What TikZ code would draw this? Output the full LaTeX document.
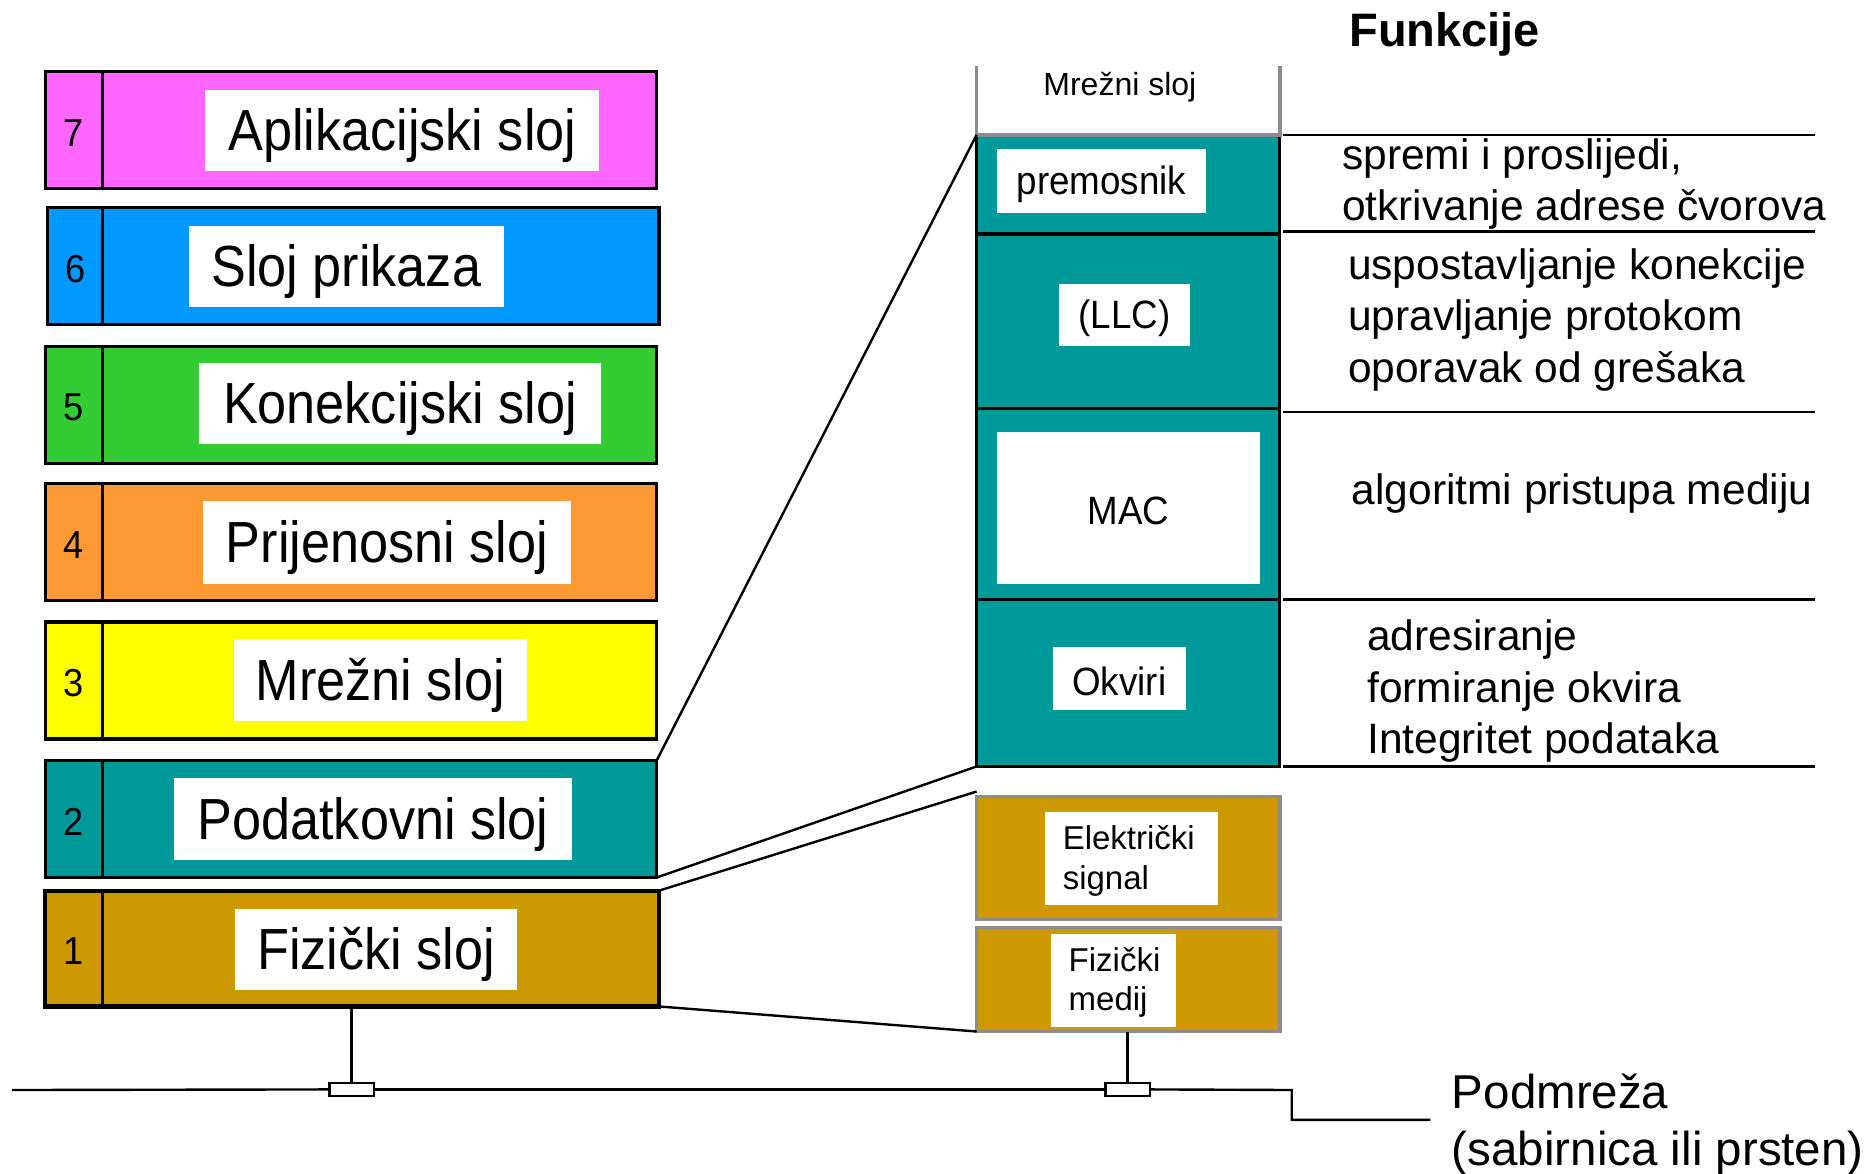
\documentclass[tikz,border=0pt]{standalone}
\usepackage{fontspec}
\setmainfont{Liberation Sans}
\usetikzlibrary{fit}
\definecolor{cApp}{HTML}{FF66FF}
\definecolor{cPres}{HTML}{0099FF}
\definecolor{cSes}{HTML}{33CC33}
\definecolor{cTra}{HTML}{FF9933}
\definecolor{cNet}{HTML}{FFFF00}
\definecolor{cDat}{HTML}{009999}
\definecolor{cPhy}{HTML}{CC9900}
\definecolor{cHatch}{HTML}{8C8C8C}
% slightly condensed lettering
\newcommand\tallbig[1]{\scalebox{0.9}[1]{#1}}
\newcommand\tallsmall[1]{\scalebox{0.93}[1]{#1}}
\begin{document}
\begin{tikzpicture}[x=1.194pt,y=-1.194pt,
  layer/.style={draw, line width=3.2pt, inner sep=0pt, outer sep=0pt},
  numcell/.style={draw, line width=2.6pt, inner sep=0pt, outer sep=0pt},
  labelbox/.style={fill=white, inner sep=0pt, outer sep=0pt},
  bigtext/.style={font=\fontsize{58}{66}\selectfont, inner sep=0pt, yshift=-5pt},
  numtext/.style={font=\fontsize{39}{44}\selectfont, inner sep=0pt, yshift=-3pt},
  subtext/.style={font=\fontsize{39.5}{46}\selectfont, inner sep=0pt, yshift=-3pt},
  phytext/.style={font=\fontsize{33}{39.4}\selectfont, inner sep=0pt, align=left, anchor=west},
  functext/.style={font=\fontsize{42.5}{51.3}\selectfont, inner sep=0pt, align=left, anchor=west},
  hatchbox/.style={draw=cHatch, line width=3.4pt, inner sep=0pt, outer sep=0pt},
  link/.style={line width=2.4pt},
  rule/.style={line width=2.4pt},
  busline/.style={line width=2.4pt},
  tap/.style={draw, fill=white, line width=2.2pt, inner sep=0pt, outer sep=0pt}
]
\useasboundingbox (0,0) rectangle (1568,983);

% ---------- OSI stack on the left ----------
\node[layer, fill=cApp, fit={(38,60)(550,158)}] (l7) {};
\node[numcell, fit={(38,60)(86,158)}] (c7) {};
\node[numtext] (n7) at (c7) {\tallsmall{7}};
\node[labelbox, fit={(172,75)(502,143)}] (w7) {};
\node[bigtext] (s7) at (w7) {\tallbig{Aplikacijski sloj}};

\node[layer, fill=cPres, fit={(40,174)(552,272)}] (l6) {};
\node[numcell, fit={(40,174)(86,272)}] (c6) {};
\node[numtext] (n6) at (c6) {\tallsmall{6}};
\node[labelbox, fit={(158,189)(422,257)}] (w6) {};
\node[bigtext] (s6) at (w6) {\tallbig{Sloj prikaza}};

\node[layer, fill=cSes, fit={(38,290)(550,388)}] (l5) {};
\node[numcell, fit={(38,290)(86,388)}] (c5) {};
\node[numtext] (n5) at (c5) {\tallsmall{5}};
\node[labelbox, fit={(167,304)(503,372)}] (w5) {};
\node[bigtext] (s5) at (w5) {\tallbig{Konekcijski sloj}};

\node[layer, fill=cTra, fit={(38,405)(550,503)}] (l4) {};
\node[numcell, fit={(38,405)(86,503)}] (c4) {};
\node[numtext] (n4) at (c4) {\tallsmall{4}};
\node[labelbox, fit={(170,420)(478,489)}] (w4) {};
\node[bigtext] (s4) at (w4) {\tallbig{Prijenosni sloj}};

\node[layer, fill=cNet, fit={(38,521)(550,619)}] (l3) {};
\node[numcell, fit={(38,521)(86,619)}] (c3) {};
\node[numtext] (n3) at (c3) {\tallsmall{3}};
\node[labelbox, fit={(196,535)(441,604)}] (w3) {};
\node[bigtext] (s3) at (w3) {\tallbig{Mrežni sloj}};

\node[layer, fill=cDat, fit={(38,637)(550,735)}] (l2) {};
\node[numcell, fit={(38,637)(86,735)}] (c2) {};
\node[numtext] (n2) at (c2) {\tallsmall{2}};
\node[labelbox, fit={(146,652)(479,720)}] (w2) {};
\node[bigtext] (s2) at (w2) {\tallbig{Podatkovni sloj}};

\node[layer, line width=4.2pt, fill=cPhy, fit={(38,746)(552,843)}] (l1) {};
\node[numcell, fit={(38,746)(86,843)}] (c1) {};
\node[numtext] (n1) at (c1) {\tallsmall{1}};
\node[labelbox, fit={(197,761)(433,829)}] (w1) {};
\node[bigtext] (s1) at (w1) {\tallbig{Fizički sloj}};

% ---------- expanded data link layer ----------
\node[layer, fill=cDat, fit={(818,113)(1072,196)}] (prem) {};
\node[labelbox, fit={(835,125)(1010,178)}] (wprem) {};
\node[subtext] (tprem) at (wprem) {\tallsmall{premosnik}};

\node[layer, fill=cDat, fit={(818,196)(1072,342)}] (llc) {};
\node[labelbox, fit={(887,238)(997,290)}] (wllc) {};
\node[subtext] (tllc) at (wllc) {\tallsmall{(LLC)}};

\node[layer, fill=cDat, fit={(818,342)(1072,502)}] (mac) {};
\node[labelbox, fit={(835,362)(1055,489)}] (wmac) {};
\node[subtext] (tmac) at (wmac) {\tallsmall{MAC}};

\node[layer, fill=cDat, fit={(818,502)(1072,642)}] (okv) {};
\node[labelbox, fit={(882,542)(993,595)}] (wokv) {};
\node[subtext] (tokv) at (wokv) {\tallsmall{Okviri}};

% header of the expanded column
\coordinate (hTL) at (818,55);
\coordinate (hTR) at (1072,55);
\draw[draw=cHatch, line width=3.4pt] (hTL) -- (prem.north west) -- (prem.north east) -- (hTR);
\node[font=\fontsize{32}{38}\selectfont, inner sep=0pt] (hdr) at (938,73) {Mrežni sloj};

% ---------- expanded physical layer ----------
\node[hatchbox, fill=cPhy, fit={(818,667)(1072,770)}] (elec) {};
\node[labelbox, fit={(875,680)(1020,758)}] (welec) {};
\node[phytext] (telec) at (890,721) {Električki\\signal};

\node[hatchbox, fill=cPhy, fit={(818,777)(1072,864)}] (med) {};
\node[labelbox, fit={(880,782)(985,860)}] (wmed) {};
\node[phytext] (tmed) at (895,823) {Fizički\\medij};

% ---------- zoom lines ----------
\draw[link] (l2.north east) -- (prem.north west);
\draw[link] (l2.south east) -- (okv.south west);
\draw[link] (l1.north east) -- ([yshift=4.8pt]elec.north west);
\draw[link] (l1.south east) -- (med.south west);

% ---------- functions ----------
\node[font=\bfseries\fontsize{47}{56}\selectfont, inner sep=0pt] (fhead) at (1210,29) {Funkcije};

\coordinate (r0a) at (1075,113); \coordinate (r0b) at (1520,113);
\coordinate (r1a) at (1075,194); \coordinate (r1b) at (1520,194);
\coordinate (r2a) at (1075,345); \coordinate (r2b) at (1520,345);
\coordinate (r3a) at (1075,502); \coordinate (r3b) at (1520,502);
\coordinate (r4a) at (1075,642); \coordinate (r4b) at (1520,642);
\foreach \k in {0,...,4} \draw[rule] (r\k a) -- (r\k b);

\node[functext] (f1) at (1124,154) {spremi i proslijedi,\\otkrivanje adrese čvorova};
\node[functext] (f2) at (1129,268) {uspostavljanje konekcije\\upravljanje protokom\\oporavak od grešaka};
\node[functext] (f3) at (1132,413) {algoritmi pristupa mediju};
\node[functext] (f4) at (1145,579) {adresiranje\\formiranje okvira\\Integritet podataka};

% ---------- subnet bus ----------
\node[tap, fit={(276,907)(313,918)}] (tapL) {};
\node[tap, fit={(926,907)(963,918)}] (tapR) {};
\coordinate (busStart) at (10,913);
\coordinate (busBend) at (1082,913);
\coordinate (busDrop) at (1082,938);
\coordinate (busEnd) at (1198,938);
\draw[busline] (busStart) -- (tapL.west);
\draw[busline] (tapL.east) -- (tapR.west);
\draw[busline] (tapR.east) -- (busBend) -- (busDrop) -- (busEnd);
\draw[busline] (tapL.north |- l1.south) -- (tapL.north);
\draw[busline] (med.south -| tapR.north) -- (tapR.north);

\node[font=\fontsize{47.5}{57}\selectfont, inner sep=0pt, align=left, anchor=west] (subnet) at (1216,942) {Podmreža\\(sabirnica ili prsten)};
\end{tikzpicture}
\end{document}
